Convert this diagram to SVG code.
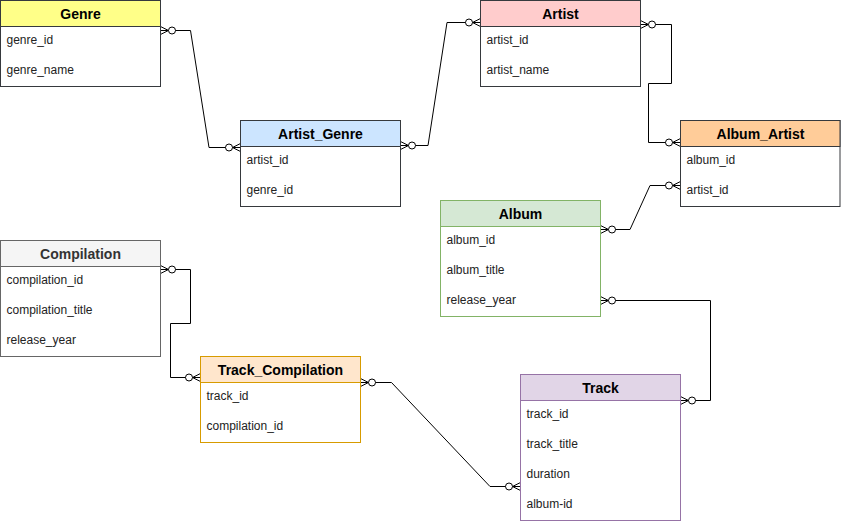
<svg xmlns="http://www.w3.org/2000/svg" width="841" height="524" viewBox="0 0 841 524">
<style>
.hd{font-family:"Liberation Sans",Arial,sans-serif;font-size:14px;font-weight:bold;text-anchor:middle;fill:#000}
.rw{font-family:"Liberation Sans",Arial,sans-serif;font-size:12px;fill:#222}
.box{fill:#fff;stroke-width:1}
.cn{fill:none;stroke:#000;stroke-width:1;marker-start:url(#zm);marker-end:url(#zm)}
</style>
<defs>
<marker id="zm" markerUnits="userSpaceOnUse" markerWidth="24" markerHeight="16" refX="18" refY="8" orient="auto-start-reverse" viewBox="0 0 24 16" overflow="visible">
<path d="M18,4 L10,8 L18,12 M10,8 H18" fill="none" stroke="#000" stroke-width="1"/>
<circle cx="6.5" cy="8" r="3.5" fill="#fff" stroke="#000" stroke-width="1"/>
</marker>
</defs>
<g id="connectors">
<path class="cn" d="M160.5,30.5 H190.5 L209,147.5 H240.5"/>
<path class="cn" d="M400.5,145.5 H428 L447,22.5 H480.5"/>
<path class="cn" d="M640.5,24.5 H671.5 V83.5 H648.5 V142.5 H680.5"/>
<path class="cn" d="M600.5,229.5 H630 L650,185.5 H680.5"/>
<path class="cn" d="M600.5,300.5 H710.5 V400.5 H680.5"/>
<path class="cn" d="M160.5,269.5 H190.5 V323.5 H170.5 V377.5 H200.5"/>
<path class="cn" d="M360.5,382.5 H391.5 L490,486.5 H520.5"/>
</g>
<g id="Genre">
<rect x="0.5" y="0.5" width="160" height="86" class="box" stroke="#36393d"/>
<rect x="0.5" y="0.5" width="160" height="26" fill="#ffff88" stroke="#36393d"/>
<text class="hd" x="80.5" y="19">Genre</text>
<text class="rw" x="6.5" y="43.5">genre_id</text>
<text class="rw" x="6.5" y="73.5">genre_name</text>
</g>
<g id="Artist">
<rect x="480.5" y="0.5" width="160" height="86" class="box" stroke="#36393d"/>
<rect x="480.5" y="0.5" width="160" height="26" fill="#ffcccc" stroke="#36393d"/>
<text class="hd" x="560.5" y="19">Artist</text>
<text class="rw" x="486.5" y="43.5">artist_id</text>
<text class="rw" x="486.5" y="73.5">artist_name</text>
</g>
<g id="Artist_Genre">
<rect x="240.5" y="120.5" width="160" height="86" class="box" stroke="#36393d"/>
<rect x="240.5" y="120.5" width="160" height="26" fill="#cce5ff" stroke="#36393d"/>
<text class="hd" x="320.5" y="139">Artist_Genre</text>
<text class="rw" x="246.5" y="163.5">artist_id</text>
<text class="rw" x="246.5" y="193.5">genre_id</text>
</g>
<g id="Album_Artist">
<rect x="680.5" y="120.5" width="159.5" height="86" class="box" stroke="#36393d"/>
<rect x="680.5" y="120.5" width="159.5" height="26" fill="#ffcc99" stroke="#36393d"/>
<text class="hd" x="760.5" y="139">Album_Artist</text>
<text class="rw" x="686.5" y="163.5">album_id</text>
<text class="rw" x="686.5" y="193.5">artist_id</text>
</g>
<g id="Album">
<rect x="440.5" y="200.5" width="160" height="116" class="box" stroke="#82b366"/>
<rect x="440.5" y="200.5" width="160" height="26" fill="#d5e8d4" stroke="#82b366"/>
<text class="hd" x="520.5" y="219">Album</text>
<text class="rw" x="446.5" y="243.5">album_id</text>
<text class="rw" x="446.5" y="273.5">album_title</text>
<text class="rw" x="446.5" y="303.5">release_year</text>
</g>
<g id="Compilation">
<rect x="0.5" y="240.5" width="160" height="116" class="box" stroke="#666666"/>
<rect x="0.5" y="240.5" width="160" height="26" fill="#f5f5f5" stroke="#666666"/>
<text class="hd" x="80.5" y="259" style="fill:#333333">Compilation</text>
<text class="rw" x="6.5" y="283.5">compilation_id</text>
<text class="rw" x="6.5" y="313.5">compilation_title</text>
<text class="rw" x="6.5" y="343.5">release_year</text>
</g>
<g id="Track_Compilation">
<rect x="200.5" y="356.5" width="160" height="86" class="box" stroke="#d79b00"/>
<rect x="200.5" y="356.5" width="160" height="26" fill="#ffe6cc" stroke="#d79b00"/>
<text class="hd" x="280.5" y="375">Track_Compilation</text>
<text class="rw" x="206.5" y="399.5">track_id</text>
<text class="rw" x="206.5" y="429.5">compilation_id</text>
</g>
<g id="Track">
<rect x="520.5" y="374.5" width="160" height="146" class="box" stroke="#9673a6"/>
<rect x="520.5" y="374.5" width="160" height="26" fill="#e1d5e7" stroke="#9673a6"/>
<text class="hd" x="600.5" y="393">Track</text>
<text class="rw" x="526.5" y="417.5">track_id</text>
<text class="rw" x="526.5" y="447.5">track_title</text>
<text class="rw" x="526.5" y="477.5">duration</text>
<text class="rw" x="526.5" y="507.5">album-id</text>
</g>
</svg>
